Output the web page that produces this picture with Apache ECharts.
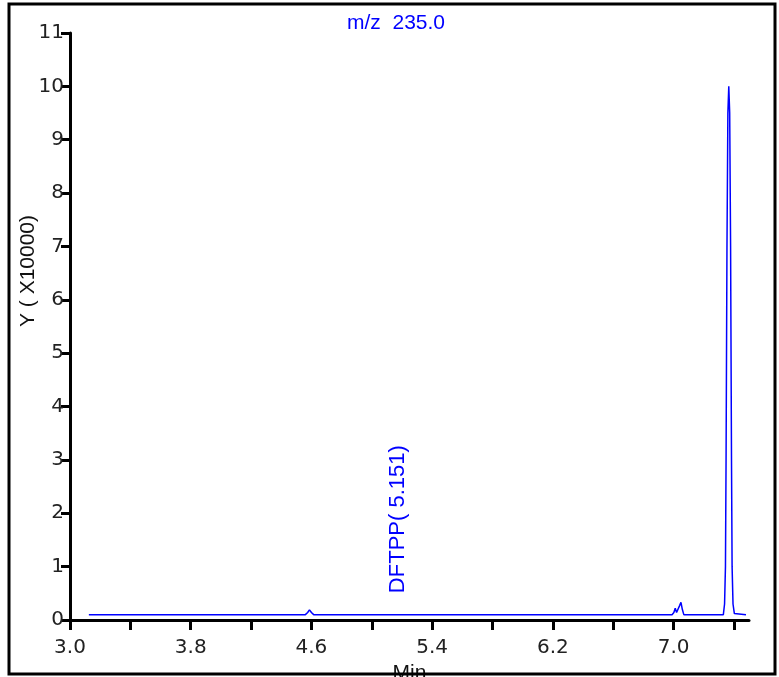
<!DOCTYPE html>
<html>
<head>
<meta charset="utf-8">
<script src="https://cdn.jsdelivr.net/npm/echarts@6/dist/echarts.min.js"></script>
<style>html,body{margin:0;padding:0;background:#fff}#c{width:779px;height:677px}</style>
</head>
<body>
<div id="c"></div>
<script>
var titleText = 'm/z  235.0';
var xName = 'Min';
var yName = 'Y ( X10000)';
var xTickValues = [3.0, 3.4, 3.8, 4.2, 4.6, 5.0, 5.4, 5.8, 6.2, 6.6, 7.0, 7.4];
var xLabelValues = [3.0, 3.8, 4.6, 5.4, 6.2, 7.0];
var times = [3.125, 4.560, 4.575, 4.587, 4.600, 4.615, 5.160, 5.172, 5.184,
  6.990, 7.002, 7.011, 7.020, 7.030, 7.040, 7.049, 7.058, 7.068,
  7.285, 7.290, 7.295, 7.303, 7.308, 7.313,
  7.330, 7.338, 7.344, 7.348, 7.354, 7.360, 7.366, 7.372, 7.378, 7.384, 7.388, 7.394, 7.403, 7.480];
var intensities = [0.1, 0.1, 0.14, 0.19, 0.14, 0.1, 0.1, 0.12, 0.1,
  0.1, 0.14, 0.22, 0.14, 0.16, 0.27, 0.33, 0.2, 0.1,
  0.1, 0.13, 0.1, 0.1, 0.13, 0.1,
  0.1, 0.3, 1.0, 3.0, 7.0, 9.5, 10.0, 9.5, 7.0, 3.0, 1.0, 0.3, 0.12, 0.1];
var annotation = {name: 'DFTPP( 5.151)', t: 5.174, v: 0.11};

var seriesData = times.map(function (t, i) { return [t, intensities[i]]; });

var chart = echarts.init(document.getElementById('c'), null, {renderer: 'canvas'});
chart.setOption({
  animation: false,
  backgroundColor: '#fff',
  title: {
    text: titleText, left: 342, top: 8,
    textStyle: {color: '#0000ff', fontFamily: 'Liberation Sans', fontSize: 21, fontWeight: 'normal'}
  },
  grid: {left: 70, right: 30, top: 33, bottom: 57, containLabel: false, outerBoundsMode: 'none'},
  xAxis: {
    type: 'value', min: 3.0, max: 7.5,
    name: xName, nameLocation: 'middle', nameGap: 36,
    nameTextStyle: {color: '#111', fontFamily: 'Liberation Sans', fontSize: 21},
    axisLine: {show: true, onZero: false, lineStyle: {color: '#000', width: 3}},
    axisTick: {show: true, length: 10, lineStyle: {color: '#000', width: 3}, customValues: xTickValues},
    axisLabel: {
      customValues: xLabelValues, margin: 18, color: '#222', fontFamily: 'DejaVu Sans', fontSize: 20,
      formatter: function (v) { return v.toFixed(1); }
    },
    splitLine: {show: false}
  },
  yAxis: {
    type: 'value', min: 0, max: 11, interval: 1,
    axisLine: {show: true, lineStyle: {color: '#000', width: 3}},
    axisTick: {show: true, length: 9, lineStyle: {color: '#000', width: 3}},
    axisLabel: {margin: 6, color: '#222', fontFamily: 'DejaVu Sans', fontSize: 20, padding: [6, 0, 0, 0]},
    splitLine: {show: false}
  },
  graphic: [
    {type: 'rect', z: 100, silent: true, shape: {x: 9, y: 4, width: 766, height: 670},
      style: {fill: 'none', stroke: '#000', lineWidth: 3}},
    {type: 'text', z: 100, x: 28, y: 271, rotation: Math.PI / 2,
      style: {text: yName, fill: '#111', font: '21px "Liberation Sans"', align: 'center', verticalAlign: 'middle'}}
  ],
  series: [{
    type: 'line', data: seriesData, showSymbol: false, smooth: false,
    lineStyle: {color: '#0000ff', width: 1.5},
    markPoint: {
      symbol: 'circle', symbolSize: 0,
      data: [{coord: [annotation.t, annotation.v]}],
      label: {
        show: true, formatter: annotation.name, position: 'top', distance: 21, rotate: 90,
        align: 'left', verticalAlign: 'middle',
        color: '#0000ff', fontFamily: 'Liberation Sans', fontSize: 22
      }
    }
  }]
});
</script>
</body>
</html>
